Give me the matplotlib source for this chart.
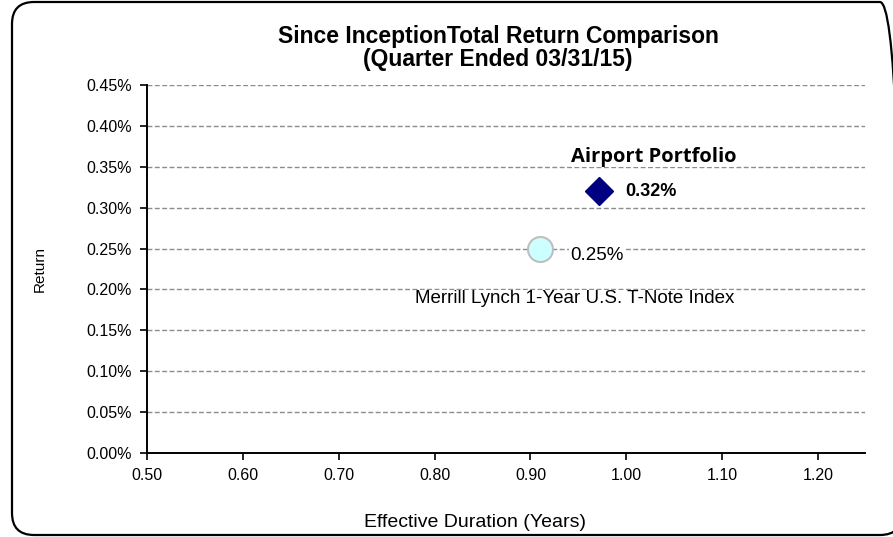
import numpy as np
import matplotlib
matplotlib.use("Agg")
import matplotlib.pyplot as plt
from matplotlib.patches import FancyBboxPatch
from matplotlib.ticker import FuncFormatter

plt.rcParams['font.family'] = ['Liberation Sans', 'DejaVu Sans']

# datos
names = ["Airport Portfolio", "Merrill Lynch 1-Year U.S. T-Note Index"]
duration = [0.972, 0.91]
returns = [0.32, 0.249]
return_labels = ["0.32%", "0.25%"]

x_ticks = [0.50, 0.60, 0.70, 0.80, 0.90, 1.00, 1.10, 1.20]
y_ticks = [0.00, 0.05, 0.10, 0.15, 0.20, 0.25, 0.30, 0.35, 0.40, 0.45]

fig = plt.figure(figsize=(8.93, 5.37), dpi=100)
ax = fig.add_axes([147 / 893, 1 - 453 / 537, 718 / 893, 368 / 537])

# borde redondeado de la figura
borde = FancyBboxPatch((12, 2), 890, 533, boxstyle="round,pad=0,rounding_size=22",
                       transform=None, facecolor='none', edgecolor='black', linewidth=1.6,
                       clip_on=False)
fig.patches.append(borde)

ax.plot(duration[0], returns[0], marker='D', markersize=14.3, color='#000080',
        linestyle='none', zorder=5)
ax.plot(duration[1], returns[1], marker='o', markersize=18, markerfacecolor='#CCFFFF',
        markeredgecolor='#BFBFBF', markeredgewidth=1.5, linestyle='none', zorder=5)

ax.text(duration[0] + 0.057, returns[0] + 0.042, names[0], fontsize=14.5, fontweight='bold',
        family=['Open Sans', 'DejaVu Sans'], ha='center', va='center',
        bbox=dict(facecolor='white', edgecolor='none', pad=0))
ax.text(duration[0] + 0.027, returns[0], return_labels[0], fontsize=13, fontweight='bold',
        ha='left', va='center')
ax.text(duration[1] + 0.032, returns[1] - 0.008, return_labels[1], fontsize=13.5,
        ha='left', va='center', bbox=dict(facecolor='white', edgecolor='none', pad=1))
ax.text(duration[1] + 0.036, returns[1] - 0.06, names[1], fontsize=13.5,
        ha='center', va='center', bbox=dict(facecolor='white', edgecolor='none', pad=0))

ax.set_xlim(0.5, 1.249)
ax.set_ylim(0, 0.45)
ax.set_xticks(x_ticks)
ax.set_yticks(y_ticks)
ax.xaxis.set_major_formatter(FuncFormatter(lambda v, p: "%.2f" % v))
ax.yaxis.set_major_formatter(FuncFormatter(lambda v, p: "%.2f%%" % v))
ax.tick_params(axis='both', labelsize=11.5, length=5, width=1.2, direction='out')
ax.tick_params(axis='y', pad=6)
ax.tick_params(axis='x', pad=6)

ax.grid(axis='y', color='#8C8C8C', linestyle=(0, (3.5, 1.8)), linewidth=1.0)
ax.set_axisbelow(True)
ax.spines['top'].set_visible(False)
ax.spines['right'].set_visible(False)
ax.spines['left'].set_linewidth(1.4)
ax.spines['bottom'].set_linewidth(1.4)

ax.set_xlabel("Effective Duration (Years)", fontsize=14, labelpad=22)
ax.xaxis.label.set_x(0.457)
ax.set_ylabel("Return", fontsize=11, labelpad=28)

fig.text(498 / 893, 1 - 48 / 537, "Since InceptionTotal Return Comparison\n(Quarter Ended 03/31/15)",
         ha='center', va='center', fontsize=16.5, fontweight='bold', linespacing=1.05)

fig.savefig("out.png", dpi=100)
